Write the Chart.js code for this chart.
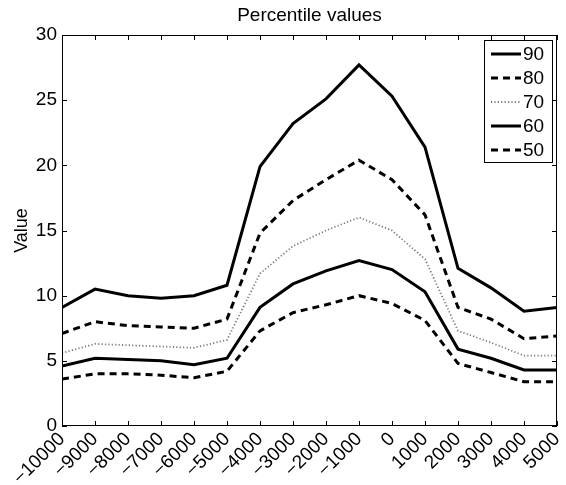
<!DOCTYPE html>
<html>
<head>
<meta charset="utf-8">
<script src="https://cdn.jsdelivr.net/npm/chart.js@4.4.0/dist/chart.umd.min.js"></script>
<style>
  html, body { margin: 0; padding: 0; background: #fff; }
</style>
</head>
<body>
<canvas id="chart" width="566" height="485"></canvas>
<script>
// data ------------------------------
const offsets = [-10000, -9000, -8000, -7000, -6000, -5000, -4000, -3000, -2000, -1000, 0, 1000, 2000, 3000, 4000, 5000];
const p90 = [9.1, 10.5, 10.0, 9.8, 10.0, 10.8, 19.9, 23.2, 25.1, 27.7, 25.3, 21.4, 12.1, 10.6, 8.8, 9.1];
const p80 = [7.1, 8.0, 7.7, 7.6, 7.5, 8.2, 14.8, 17.3, 18.9, 20.4, 18.9, 16.2, 9.1, 8.2, 6.7, 6.9];
const p70 = [5.6, 6.3, 6.2, 6.1, 6.0, 6.6, 11.7, 13.8, 15.0, 16.0, 15.0, 12.8, 7.3, 6.4, 5.4, 5.4];
const p60 = [4.6, 5.2, 5.1, 5.0, 4.7, 5.2, 9.1, 10.9, 11.9, 12.7, 12.0, 10.3, 5.9, 5.2, 4.3, 4.3];
const p50 = [3.6, 4.0, 4.0, 3.9, 3.7, 4.2, 7.3, 8.7, 9.3, 10.0, 9.4, 8.1, 4.8, 4.1, 3.4, 3.4];
const seriesLabels = ['90', '80', '70', '60', '50'];

const FONT = 'Liberation Sans, Arial, Helvetica, sans-serif';
const TICK_LEN = 5;

const toPoints = values => values.map((v, i) => ({ x: offsets[i], y: v }));

const solid = { borderColor: '#000', borderWidth: 3, borderDash: [] };
const dashed = { borderColor: '#000', borderWidth: 3, borderDash: [7, 5] };
const dotted = { borderColor: '#777', borderWidth: 1.8, borderDash: [1.2, 2.2] };
const styles = [solid, dashed, dotted, solid, dashed];

const datasets = [p90, p80, p70, p60, p50].map((values, i) => ({
  label: seriesLabels[i],
  data: toPoints(values),
  ...styles[i],
  pointRadius: 0,
  tension: 0,
  fill: false,
}));

// box with inward ticks on all four sides, plus the legend box
const framePlugin = {
  id: 'frame',
  afterDatasetsDraw(chart) {
    const { ctx, chartArea: a, scales } = chart;
    ctx.save();
    ctx.strokeStyle = '#000';
    ctx.lineWidth = 1;
    ctx.setLineDash([]);
    ctx.strokeRect(a.left + 0.5, a.top + 0.5, a.right - a.left - 1, a.bottom - a.top - 1);
    ctx.beginPath();
    scales.x.ticks.forEach(t => {
      const x = Math.round(scales.x.getPixelForValue(t.value)) + 0.5;
      ctx.moveTo(x, a.bottom);
      ctx.lineTo(x, a.bottom - TICK_LEN);
      ctx.moveTo(x, a.top);
      ctx.lineTo(x, a.top + TICK_LEN);
    });
    scales.y.ticks.forEach(t => {
      const y = Math.round(scales.y.getPixelForValue(t.value)) + 0.5;
      ctx.moveTo(a.left, y);
      ctx.lineTo(a.left + TICK_LEN, y);
      ctx.moveTo(a.right, y);
      ctx.lineTo(a.right - TICK_LEN, y);
    });
    ctx.stroke();

    // legend
    const boxW = 68, boxH = 122, rowH = 24;
    const bx = a.right - 5 - boxW, by = a.top + 5;
    ctx.fillStyle = '#fff';
    ctx.fillRect(bx, by, boxW, boxH);
    ctx.strokeRect(bx + 0.5, by + 0.5, boxW, boxH);
    ctx.font = `19px ${FONT}`;
    ctx.textBaseline = 'middle';
    ctx.textAlign = 'left';
    chart.data.datasets.forEach((ds, i) => {
      const y = by + 14 + i * rowH;
      ctx.strokeStyle = ds.borderColor;
      ctx.lineWidth = ds.borderWidth;
      ctx.setLineDash(ds.borderDash);
      ctx.beginPath();
      ctx.moveTo(bx + 7, y);
      ctx.lineTo(bx + 37, y);
      ctx.stroke();
      ctx.fillStyle = '#000';
      ctx.fillText(ds.label, bx + 39, y + 1);
    });
    ctx.restore();
  },
};

new Chart(document.getElementById('chart'), {
  type: 'line',
  data: { datasets },
  plugins: [framePlugin],
  options: {
    responsive: false,
    animation: false,
    layout: { padding: { left: 0, right: 9, top: 0, bottom: 0 } },
    plugins: {
      legend: { display: false },
      tooltip: { enabled: false },
      title: {
        display: true,
        text: 'Percentile values',
        fullSize: false,
        color: '#000',
        font: { family: FONT, size: 19, weight: 'normal' },
        padding: { top: 4, bottom: 8.2 },
      },
    },
    scales: {
      x: {
        type: 'linear',
        min: -10000,
        max: 5000,
        grid: { display: false, drawTicks: false },
        border: { display: false },
        ticks: {
          stepSize: 1000,
          autoSkip: false,
          minRotation: 45,
          maxRotation: 45,
          padding: 2,
          color: '#000',
          font: { family: FONT, size: 19 },
          callback: v => (v < 0 ? '\u2212' + Math.abs(v) : String(v)),
        },
        afterFit(s) {
          s.height = 59;
          s.paddingLeft = 0;
          s.paddingRight = 0;
        },
      },
      y: {
        min: 0,
        max: 30,
        grid: { display: false, drawTicks: false },
        border: { display: false },
        title: {
          display: true,
          text: 'Value',
          color: '#000',
          font: { family: FONT, size: 18 },
          padding: { top: 11, bottom: 0 },
        },
        ticks: {
          stepSize: 5,
          padding: 5,
          color: '#000',
          font: { family: FONT, size: 19 },
        },
        afterFit(s) {
          s.width = 62;
        },
      },
    },
  },
});
</script>
</body>
</html>
